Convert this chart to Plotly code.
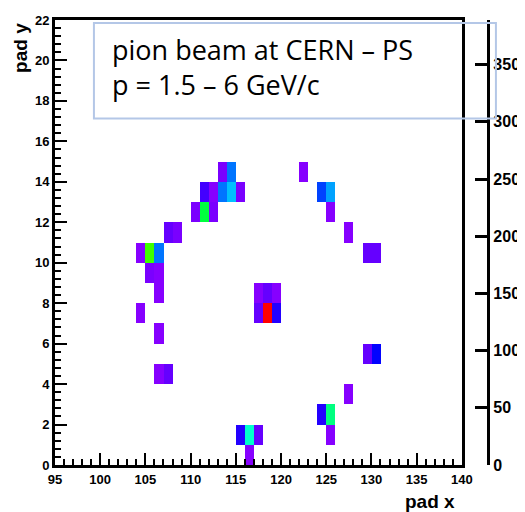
import colorsys
import plotly.graph_objects as go

# pad hits: pad x bin, pad y bin, counts
pad_x = [113, 114, 122,
         111, 112, 113, 114, 115, 124, 125,
         110, 111, 112, 125,
         107, 108, 127,
         104, 105, 106, 129, 130,
         105, 106,
         106, 117, 118, 119,
         104, 117, 118, 119,
         106,
         129, 130,
         106, 107,
         127,
         124, 125,
         115, 116, 117, 125,
         116]
pad_y = [14, 14, 14,
         13, 13, 13, 13, 13, 13, 13,
         12, 12, 12, 12,
         11, 11, 11,
         10, 10, 10, 10, 10,
         9, 9,
         8, 8, 8, 8,
         7, 7, 7, 7,
         6,
         5, 5,
         4, 4,
         3,
         2, 2,
         1, 1, 1, 1,
         0]
counts = [8, 88, 4,
          26, 4, 88, 113, 8, 71, 103,
          8, 198, 8, 4,
          15, 8, 4,
          4, 240, 88, 15, 15,
          8, 4,
          4, 4, 15, 4,
          4, 15, 389, 37,
          4,
          15, 49,
          4, 15,
          4,
          37, 176,
          37, 151, 15, 4,
          4]

x_edges = list(range(95, 141))
y_edges = list(range(0, 23))
z_max = 389
z_ticks = [0, 50, 100, 150, 200, 250, 300, 350]

# fill the pad matrix, empty pads stay blank
z = [[None] * (len(x_edges) - 1) for _ in range(len(y_edges) - 1)]
for px, py, c in zip(pad_x, pad_y, counts):
    z[py][px - 95] = c

# ROOT "pretty" palette: hue from violet down to red
colorscale = []
for i in range(50):
    f = i / 49
    r, g, b = colorsys.hls_to_rgb(274.4 * (1 - f) / 360, 0.5, 1.0)
    colorscale.append([f, f"rgb({int(r*255)},{int(g*255)},{int(b*255)})"])

fig = go.Figure()
fig.add_trace(go.Heatmap(x=x_edges, y=y_edges, z=z, zmin=0, zmax=z_max,
                         colorscale=colorscale, showscale=False,
                         hoverongaps=False))
# dummy trace so the palette axis is drawn
fig.add_trace(go.Scatter(x=[None], y=[None], yaxis="y2", showlegend=False))

bold = dict(family="Liberation Sans, Arial", size=13, color="black", weight="bold")

# page body adds 8px, so the figure is 8px smaller than the window
fig.update_layout(
    width=517, height=504,
    margin=dict(l=47, r=20, t=5, b=47),
    paper_bgcolor="white", plot_bgcolor="white",
    showlegend=False,
    xaxis=dict(domain=[0, 418 / 450], range=[95, 140], tick0=95, dtick=5,
               ticks="inside", ticklen=12, tickwidth=2, tickcolor="black",
               minor=dict(ticks="inside", dtick=1, ticklen=6, tickwidth=2,
                          tickcolor="black"),
               showline=True, linewidth=3, linecolor="black", mirror=True,
               showgrid=False, zeroline=False, tickfont=bold),
    yaxis=dict(range=[0, 22], tick0=0, dtick=2,
               ticks="inside", ticklen=12, tickwidth=2, tickcolor="black",
               minor=dict(ticks="inside", dtick=0.4, ticklen=6, tickwidth=2,
                          tickcolor="black"),
               showline=True, linewidth=3, linecolor="black", mirror=True,
               showgrid=False, zeroline=False, tickfont=bold),
    yaxis2=dict(overlaying="y", anchor="free", position=445 / 450, side="right",
                range=[0, z_max], tickvals=z_ticks,
                ticks="inside", ticklen=12, tickwidth=3, tickcolor="black",
                showline=True, linewidth=3, linecolor="black",
                showgrid=False, zeroline=False,
                tickfont=dict(family="Liberation Sans, Arial", size=16,
                              color="black", weight="bold")),
)

fig.add_annotation(text="pad x", xref="paper", yref="paper",
                   x=(468 - 55) / 450, y=(465 - 502) / 452,
                   xanchor="right", yanchor="middle", showarrow=False,
                   font=dict(family="Liberation Sans, Arial", size=19,
                             color="black", weight="bold"))
fig.add_annotation(text="pad y", xref="paper", yref="paper",
                   x=(20 - 55) / 450, y=(465 - 14) / 452, textangle=-90,
                   xanchor="center", yanchor="top", showarrow=False,
                   font=dict(family="Liberation Sans, Arial", size=19,
                             color="black", weight="bold"))

# text box
fig.add_shape(type="rect", xref="paper", yref="paper",
              x0=(95 - 55) / 450, x1=(508 - 55) / 450,
              y0=(465 - 113) / 452, y1=(465 - 16) / 452,
              line=dict(color="#b4c7e7", width=2), fillcolor="rgba(0,0,0,0)")
fig.add_annotation(text="pion beam at CERN – PS<br>p = 1.5 – 6 GeV/c",
                   xref="paper", yref="paper",
                   x=(112 - 55) / 450, y=(465 - 61) / 452,
                   xanchor="left", yanchor="middle", align="left",
                   showarrow=False,
                   font=dict(family="Open Sans", size=27, color="black"))

fig.write_html("out.html")
